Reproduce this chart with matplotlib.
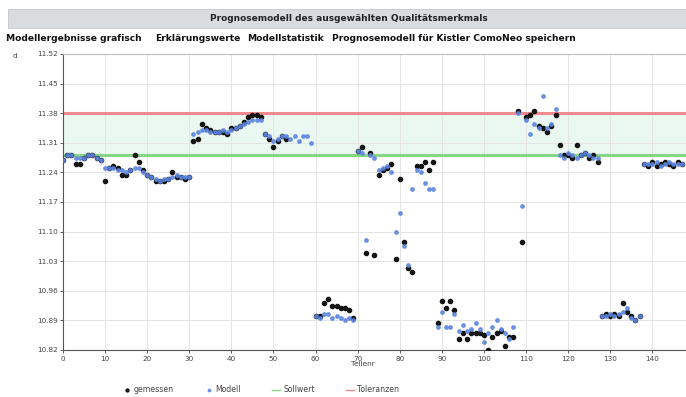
import matplotlib.pyplot as plt
import numpy as np
from matplotlib.patches import Rectangle

nan = np.nan

# measured values (gemessen) per part number
gemessen = [
    11.27, 11.28, 11.28, 11.26, 11.26, 11.275, 11.28, 11.28, 11.275, 11.27,
    11.22, 11.25, 11.255, 11.25, 11.235, 11.235, 11.245, 11.28, 11.265, 11.245,
    11.235, 11.23, 11.22, 11.22, 11.22, 11.225, 11.24, 11.23, 11.23, 11.225,
    11.23, 11.315, 11.32, 11.355, 11.345, 11.34, 11.335, 11.335, 11.335, 11.33,
    11.345, 11.345, 11.35, 11.36, 11.37, 11.375, 11.375, 11.37, 11.33, 11.32,
    11.30, 11.315, 11.325, 11.32, nan, nan, nan, nan, nan, nan,
    10.90, 10.90, 10.93, 10.94, 10.925, 10.925, 10.92, 10.92, 10.915, 10.895,
    11.29, 11.30, 11.05, 11.285, 11.045, 11.235, 11.245, 11.25, 11.26, 11.035,
    11.225, 11.075, 11.015, 11.005, 11.255, 11.255, 11.265, 11.245, 11.265, 10.885,
    10.935, 10.92, 10.935, 10.915, 10.845, 10.86, 10.845, 10.86, 10.86, 10.86,
    10.855, 10.82, 10.85, 10.86, 10.865, 10.83, 10.85, 10.85, 11.385, 11.075,
    11.37, 11.375, 11.385, 11.35, 11.345, 11.335, 11.35, 11.375, 11.305, 11.28,
    11.28, 11.275, 11.305, 11.28, 11.285, 11.275, 11.28, 11.265, 10.90, 10.905,
    10.90, 10.905, 10.90, 10.93, 10.91, 10.90, 10.89, 10.90, 11.26, 11.255,
    11.265, 11.255, 11.26, 11.265, 11.26, 11.255, 11.265, 11.26,
]

# model prediction (Modell)
modell = [
    11.27, 11.28, 11.28, 11.275, 11.275, 11.275, 11.28, 11.28, 11.275, 11.27,
    11.25, 11.25, 11.25, 11.245, 11.245, 11.24, 11.245, 11.25, 11.25, 11.24,
    11.235, 11.23, 11.225, 11.22, 11.225, 11.225, 11.23, 11.235, 11.23, 11.23,
    11.23, 11.33, 11.335, 11.34, 11.34, 11.335, 11.335, 11.335, 11.34, 11.335,
    11.34, 11.345, 11.35, 11.355, 11.36, 11.365, 11.365, 11.365, 11.33, 11.325,
    11.315, 11.32, 11.325, 11.325, 11.32, 11.325, 11.315, 11.325, 11.325, 11.31,
    10.90, 10.895, 10.905, 10.905, 10.895, 10.90, 10.895, 10.89, 10.895, 10.89,
    11.29, 11.285, 11.08, 11.28, 11.275, 11.245, 11.25, 11.255, 11.24, 11.10,
    11.145, 11.065, 11.02, 11.20, 11.245, 11.24, 11.215, 11.20, 11.20, 10.875,
    10.91, 10.875, 10.875, 10.905, 10.865, 10.88, 10.865, 10.87, 10.885, 10.87,
    10.84, 10.86, 10.875, 10.89, 10.87, 10.86, 10.845, 10.875, 11.38, 11.16,
    11.365, 11.33, 11.355, 11.345, 11.42, 11.345, 11.355, 11.39, 11.28, 11.275,
    11.285, 11.28, 11.275, 11.28, 11.285, 11.28, 11.275, 11.275, 10.90, 10.90,
    10.905, 10.90, 10.905, 10.91, 10.92, 10.895, 10.89, 10.90, 11.26, 11.26,
    11.26, 11.265, 11.255, 11.26, 11.265, 11.26, 11.26, 11.26,
]

sollwert = 11.28
toleranz_oben = 11.38

yticks = [10.82, 10.89, 10.96, 11.03, 11.10, 11.17, 11.24, 11.31, 11.38, 11.45, 11.52]
xticks = list(range(0, 150, 10))

teil = np.arange(len(gemessen))

fig = plt.figure(figsize=(6.86, 3.97), dpi=100)

# header bar and tabs
fig.patches.append(Rectangle((0.012, 0.93), 0.988, 0.048, transform=fig.transFigure,
                             facecolor="#d9dcdf", edgecolor="#c4c7ca", lw=0.6))
fig.text(0.509, 0.954, "Prognosemodell des ausgewählten Qualitätsmerkmals",
         ha="center", va="center", fontsize=6.5, fontweight="bold", color="#222")
tabs = [("Modellergebnisse grafisch", 0.009),
        ("Erklärungswerte", 0.226),
        ("Modellstatistik", 0.360),
        ("Prognosemodell für Kistler ComoNeo speichern", 0.484)]
for txt, xpos in tabs:
    fig.text(xpos, 0.904, txt, ha="left", va="center", fontsize=6.6,
             fontweight="bold", color="#111")

ax = fig.add_axes([0.0918, 0.1184, 0.9082, 0.7456])

ax.axhspan(sollwert, toleranz_oben, color="#eaf8f1", zorder=0)
ax.axhline(toleranz_oben, color="#f08a8f", lw=2.2, zorder=1, label="Toleranzen")
ax.axhline(sollwert, color="#86d686", lw=2.2, zorder=1, label="Sollwert")

ax.scatter(teil, gemessen, s=9, color="#151515", zorder=3, label="gemessen")
ax.scatter(teil, modell, s=6, color="#5d86e0", alpha=0.85, zorder=4, label="Modell")

ax.set_xlim(0, 148)
ax.set_ylim(10.82, 11.52)
ax.set_xticks(xticks)
ax.set_yticks(yticks)
ax.set_yticklabels([f"{v:.2f}" for v in yticks])
ax.tick_params(labelsize=5.2, colors="#444", length=2, width=0.6, pad=2)
ax.grid(True, color="#e4e4e4", lw=0.7, zorder=0)
ax.set_axisbelow(True)
for side in ["left", "bottom"]:
    ax.spines[side].set_color("#555")
    ax.spines[side].set_linewidth(0.8)
ax.spines["top"].set_color("#bbb")
ax.spines["right"].set_visible(False)

fig.text(0.018, 0.855, "d", fontsize=5.2, color="#444")
fig.text(0.529, 0.078, "Teilenr", ha="center", fontsize=5.2, color="#444")

h, l = ax.get_legend_handles_labels()
order = [l.index(n) for n in ["gemessen", "Modell", "Sollwert", "Toleranzen"]]
leg = fig.legend([h[i] for i in order], [l[i] for i in order], loc="center",
                 bbox_to_anchor=(0.38, 0.018), ncol=4, frameon=False,
                 fontsize=5.6, columnspacing=4.0, handlelength=1.0,
                 handletextpad=0.4, markerscale=0.7)
for t in leg.get_texts():
    t.set_color("#444")
for lh in leg.get_lines():
    lh.set_linewidth(1.0)

fig.savefig("out.png", dpi=100)
